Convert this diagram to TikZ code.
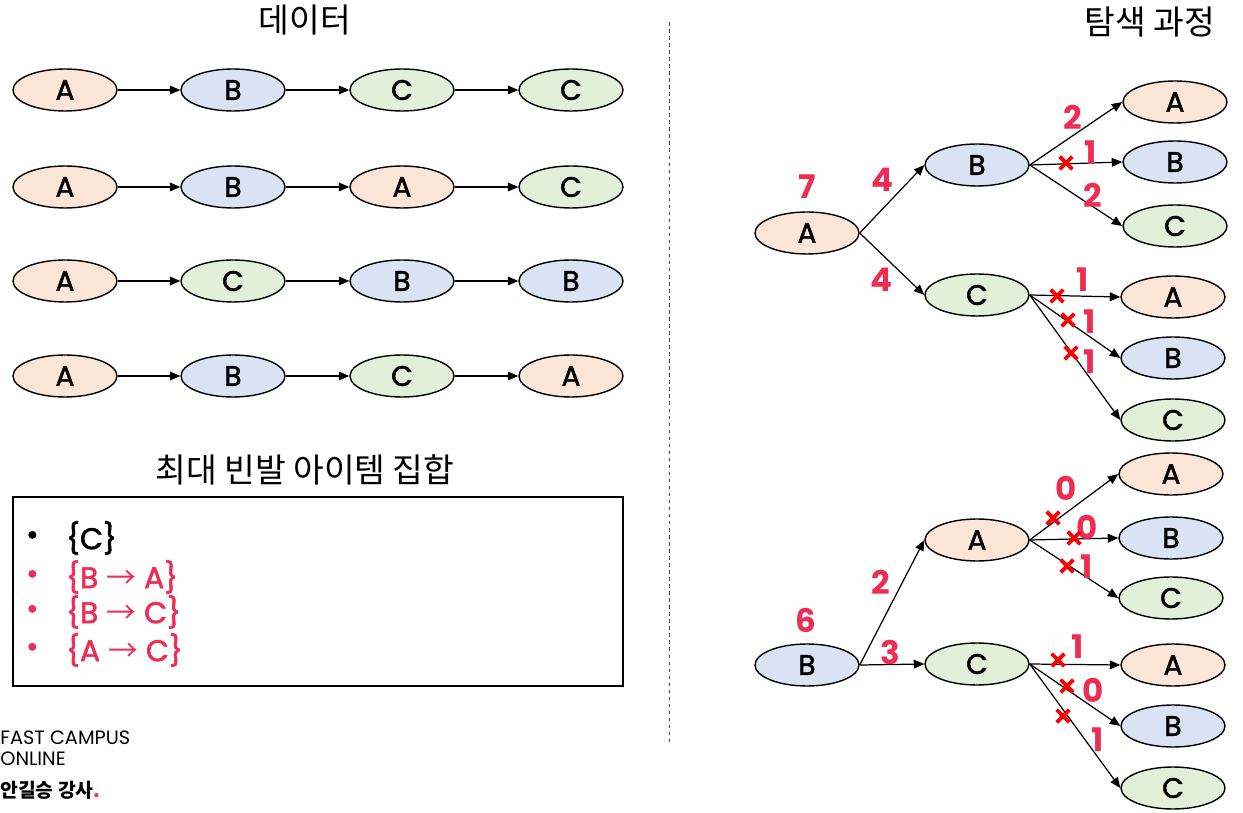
\documentclass[tikz,border=0pt]{standalone}
\usepackage{fontspec}
\setmainfont{Noto Sans CJK KR}
\newfontfamily\geofont{Poppins}[FakeBold=1.8]
\newfontfamily\geothin{Poppins}
\usetikzlibrary{arrows.meta, shapes.geometric, shapes.misc}
\definecolor{nodeorange}{HTML}{FBE5D6}
\definecolor{nodeblue}{HTML}{DAE3F3}
\definecolor{nodegreen}{HTML}{E2F0D9}
\definecolor{labelred}{HTML}{EE2D55}
\definecolor{crossred}{HTML}{FF0000}
\newcommand{\seqarrow}{{\rmfamily →}}

\begin{document}
\begin{tikzpicture}[
  x=0.02cm, y=-0.02cm,
  item/.style={ellipse, draw=black, line width=0.8pt, fill=#1, minimum width=2.08cm, minimum height=0.84cm, inner sep=0pt, font=\geofont\fontsize{16}{16}\selectfont},
  link/.style={-{Triangle[length=6pt, width=5pt]}, line width=0.7pt},
  count/.style={font=\geothin\fontsize{18.5}{18.5}\selectfont\bfseries, text=labelred},
  prune/.style={cross out, draw=crossred, line width=2.2pt, minimum size=5pt, inner sep=0pt},
  title/.style={font=\fontsize{19}{19}\selectfont},
  setitem/.style={anchor=west, font=\geofont\fontsize{17}{17}\selectfont},
  footer/.style={anchor=west, font=\geothin\fontsize{11}{11}\selectfont, inner sep=0pt},
]
\useasboundingbox (0,0) rectangle (1243,813);

% Titles
\node[title] (t_data) at (305,20) {데이터};
\node[title] (t_sets) at (305,470) {최대 빈발 아이템 집합};
\node[title] (t_search) at (1150,22) {탐색 과정};

% Divider
\draw[dashed, dash pattern=on 2pt off 2pt, line width=0.4pt, black!70] (669,22) -- (669,743);

% Left side: sequence data
\node[item=nodeorange] (d11) at (65,90) {A};
\node[item=nodeblue] (d12) at (233,90) {B};
\node[item=nodegreen] (d13) at (402,90) {C};
\node[item=nodegreen] (d14) at (571,90) {C};

\node[item=nodeorange] (d21) at (65,187) {A};
\node[item=nodeblue] (d22) at (233,187) {B};
\node[item=nodeorange] (d23) at (402,187) {A};
\node[item=nodegreen] (d24) at (571,187) {C};

\node[item=nodeorange] (d31) at (65,281) {A};
\node[item=nodegreen] (d32) at (233,281) {C};
\node[item=nodeblue] (d33) at (402,281) {B};
\node[item=nodeblue] (d34) at (571,281) {B};

\node[item=nodeorange] (d41) at (65,376) {A};
\node[item=nodeblue] (d42) at (233,376) {B};
\node[item=nodegreen] (d43) at (402,376) {C};
\node[item=nodeorange] (d44) at (571,376) {A};

\draw[link] (d11) -- (d12);
\draw[link] (d12) -- (d13);
\draw[link] (d13) -- (d14);
\draw[link] (d21) -- (d22);
\draw[link] (d22) -- (d23);
\draw[link] (d23) -- (d24);
\draw[link] (d31) -- (d32);
\draw[link] (d32) -- (d33);
\draw[link] (d33) -- (d34);
\draw[link] (d41) -- (d42);
\draw[link] (d42) -- (d43);
\draw[link] (d43) -- (d44);

% Left side: maximal frequent item sets
\node[draw, line width=1.2pt, minimum width=12.2cm, minimum height=3.78cm] (setbox) at (318,591.5) {};
\node[setitem] (b1) at (20,538) {•};
\node[setitem] (s1) at (60,538) {\{C\}};
\node[setitem, text=labelred] (b2) at (20,577) {•};
\node[setitem, text=labelred] (s2) at (60,577) {\{B \seqarrow{} A\}};
\node[setitem, text=labelred] (b3) at (20,612) {•};
\node[setitem, text=labelred] (s3) at (60,612) {\{B \seqarrow{} C\}};
\node[setitem, text=labelred] (b4) at (20,650) {•};
\node[setitem, text=labelred] (s4) at (60,650) {\{A \seqarrow{} C\}};

% Footer
\node[footer] (f1) at (0,738) {FAST CAMPUS};
\node[footer] (f2) at (0,759) {ONLINE};
\node[footer, font=\fontsize{11}{11}\selectfont\bfseries] (f3) at (0,790) {안길승 강사{\color{labelred}.}};

% Right side: search tree from A
\node[item=nodeorange] (ra) at (807,233) {A};
\node[item=nodeblue] (rab) at (977,165) {B};
\node[item=nodegreen] (rac) at (977,295) {C};
\node[item=nodeorange] (raba) at (1175,102) {A};
\node[item=nodeblue] (rabb) at (1175,162) {B};
\node[item=nodegreen] (rabc) at (1175,226) {C};
\node[item=nodeorange] (raca) at (1173,297) {A};
\node[item=nodeblue] (racb) at (1173,358) {B};
\node[item=nodegreen] (racc) at (1173,420) {C};

\draw[link] (ra.east) -- (rab.west);
\draw[link] (ra.east) -- (rac.west);
\draw[link] (rab.east) -- (raba.west);
\draw[link] (rab.east) -- (rabb.west);
\draw[link] (rab.east) -- (rabc.west);
\draw[link] (rac.east) -- (raca.west);
\draw[link] (rac.east) -- (racb.west);
\draw[link] (rac.east) -- (racc.west);

\node[count] (ca) at (807,187) {7};
\node[count] (cab) at (882,180) {4};
\node[count] (cac) at (881,280) {4};
\node[count] (caba) at (1073,117) {2};
\node[count] (cabb) at (1091,153) {1};
\node[count] (cabc) at (1093,195) {2};
\node[count] (caca) at (1083,280) {1};
\node[count] (cacb) at (1090,322) {1};
\node[count] (cacc) at (1090,362) {1};

\node[prune] (xabb) at (1066,163) {};
\node[prune] (xaca) at (1057,296) {};
\node[prune] (xacb) at (1068,320) {};
\node[prune] (xacc) at (1071,353) {};

% Right side: search tree from B
\node[item=nodeblue] (rb) at (807,665) {B};
\node[item=nodeorange] (rba) at (977,540) {A};
\node[item=nodegreen] (rbc) at (977,664) {C};
\node[item=nodeorange] (rbaa) at (1171,474) {A};
\node[item=nodeblue] (rbab) at (1171,538) {B};
\node[item=nodegreen] (rbac) at (1171,598) {C};
\node[item=nodeorange] (rbca) at (1173,665) {A};
\node[item=nodeblue] (rbcb) at (1173,726) {B};
\node[item=nodegreen] (rbcc) at (1173,788) {C};

\draw[link] (rb.east) -- (rba.west);
\draw[link] (rb.east) -- (rbc.west);
\draw[link] (rba.east) -- (rbaa.west);
\draw[link] (rba.east) -- (rbab.west);
\draw[link] (rba.east) -- (rbac.west);
\draw[link] (rbc.east) -- (rbca.west);
\draw[link] (rbc.east) -- (rbcb.west);
\draw[link] (rbc.east) -- (rbcc.west);

\node[count] (cb) at (806,620) {6};
\node[count] (cba) at (881,582) {2};
\node[count] (cbc) at (890,652) {3};
\node[count] (cbaa) at (1066,488) {0};
\node[count] (cbab) at (1087,527) {0};
\node[count] (cbac) at (1087,567) {1};
\node[count] (cbca) at (1078,647) {1};
\node[count] (cbcb) at (1093,690) {0};
\node[count] (cbcc) at (1098,740) {1};

\node[prune] (xbaa) at (1053,518) {};
\node[prune] (xbab) at (1074,538) {};
\node[prune] (xbac) at (1067,566) {};
\node[prune] (xbca) at (1058,660) {};
\node[prune] (xbcb) at (1067,686) {};
\node[prune] (xbcc) at (1063,716) {};

\end{tikzpicture}
\end{document}
